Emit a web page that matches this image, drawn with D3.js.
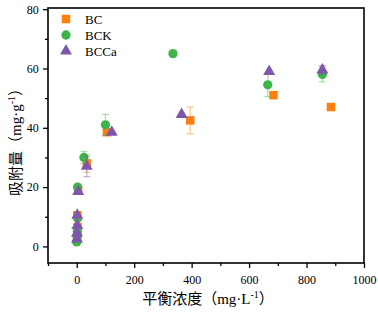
<!DOCTYPE html>
<html>
<head>
<meta charset="utf-8">
<script src="https://cdn.jsdelivr.net/npm/d3@7"></script>
<style>
  body { margin: 0; background: #fff; }
  svg { display: block; }
  .serif { font-family: "Liberation Serif", "Times New Roman", serif; }
</style>
</head>
<body>
<div id="chart"></div>
<script>
// Adsorption isotherm: uptake vs equilibrium concentration

const seriesNames = ["BC", "BCK", "BCCa"];

// [concentration, uptake, error]
const bcPoints = [
  [1, 2.5, 0], [2, 4, 0], [3, 6.5, 0], [2, 10.5, 0], [5, 19, 0],
  [35, 28, 3], [105, 38.5, 0.8], [395, 42.5, 4.5], [685, 51, 0.8], [885, 47, 0.8]
];
const bckPoints = [
  [0, 1.5, 0], [1, 3.5, 0], [2, 5, 0], [3, 9.5, 0], [3, 20, 0],
  [25, 30, 2], [100, 41, 3.5], [335, 65, 0], [665, 54.5, 4], [855, 58, 2.5]
];
const bccaPoints = [
  [1, 2.5, 0], [1, 4.5, 0], [2, 7, 0], [2, 10.5, 0], [5, 18.5, 0],
  [35, 27, 3.5], [122, 38.5, 0], [365, 44.5, 0], [670, 59, 0], [855, 59.5, 1.5]
];

const xTicks = [0, 200, 400, 600, 800, 1000];
const yTicks = [0, 20, 40, 60, 80];

const width = 378;
const height = 314;
const margin = { top: 8, right: 14, bottom: 51, left: 48 };

const colors = { BC: "#ff7f0e", BCK: "#3db54a", BCCa: "#7e57ad" };
const symbols = { BC: d3.symbolSquare, BCK: d3.symbolCircle, BCCa: d3.symbolTriangle };
const symbolSizes = { BC: 72, BCK: 68, BCCa: 62 };

const svg = d3.select("#chart")
  .append("svg")
  .attr("width", width)
  .attr("height", height);

const xScale = d3.scaleLinear()
  .domain([-100, 1000])
  .range([margin.left, width - margin.right]);

const yScale = d3.scaleLinear()
  .domain([-5.6, 80.4])
  .range([height - margin.bottom, margin.top]);

const serifFont = '"Liberation Serif", "Times New Roman", serif';

// Axes (outward ticks)
const xAxis = svg.append("g")
  .attr("transform", `translate(0,${height - margin.bottom})`)
  .call(d3.axisBottom(xScale).tickValues(xTicks).tickFormat(d3.format("d")).tickSize(5).tickSizeOuter(0));
svg.append("g")
  .attr("transform", `translate(0,${height - margin.bottom})`)
  .call(d3.axisBottom(xScale).tickValues([-100, 100, 300, 500, 700, 900]).tickSize(3).tickFormat("").tickSizeOuter(0))
  .select(".domain").remove();

const yAxis = svg.append("g")
  .attr("transform", `translate(${margin.left},0)`)
  .call(d3.axisLeft(yScale).tickValues(yTicks).tickSize(5).tickSizeOuter(0));
svg.append("g")
  .attr("transform", `translate(${margin.left},0)`)
  .call(d3.axisLeft(yScale).tickValues([10, 30, 50, 70]).tickSize(3).tickFormat("").tickSizeOuter(0))
  .select(".domain").remove();

[xAxis, yAxis].forEach(g => {
  g.attr("font-family", serifFont).attr("font-size", 12);
  g.select(".domain").remove();
  g.selectAll("text").attr("fill", "#000");
});
svg.selectAll(".tick line").attr("stroke", "#000").attr("stroke-width", 1.3);
xAxis.selectAll("text").attr("dy", "1.1em");
yAxis.selectAll("text").attr("dx", "-0.1em");

// Frame
svg.append("rect")
  .attr("x", margin.left)
  .attr("y", margin.top)
  .attr("width", width - margin.left - margin.right)
  .attr("height", height - margin.top - margin.bottom)
  .attr("fill", "none")
  .attr("stroke", "#000")
  .attr("stroke-width", 1.6);

// Axis titles
const cjkFont = '"Noto Sans CJK SC", sans-serif';
const xTitle = svg.append("text")
  .attr("x", (margin.left + width - margin.right) / 2 + 2)
  .attr("y", 304)
  .attr("text-anchor", "middle")
  .attr("font-size", 15)
  .attr("fill", "#000");
xTitle.append("tspan").attr("font-family", cjkFont).text("平衡浓度（");
xTitle.append("tspan").attr("font-family", serifFont).text("mg·L");
xTitle.append("tspan").attr("font-family", serifFont).attr("font-size", 10).attr("dy", -6).text("-1");
xTitle.append("tspan").attr("font-family", cjkFont).attr("dy", 6).text("）");

const yTitle = svg.append("text")
  .attr("transform", `translate(21,${(margin.top + height - margin.bottom) / 2 + 3}) rotate(-90)`)
  .attr("text-anchor", "middle")
  .attr("font-size", 15)
  .attr("fill", "#000");
yTitle.append("tspan").attr("font-family", cjkFont).text("吸附量（");
yTitle.append("tspan").attr("font-family", serifFont).text("mg·g");
yTitle.append("tspan").attr("font-family", serifFont).attr("font-size", 10).attr("dy", -6).text("-1");
yTitle.append("tspan").attr("font-family", cjkFont).attr("dy", 6).text("）");

// Series
const allSeries = [
  { name: "BC", points: bcPoints },
  { name: "BCK", points: bckPoints },
  { name: "BCCa", points: bccaPoints }
];

allSeries.forEach(s => {
  const col = colors[s.name];
  const g = svg.append("g");

  // Error bars
  const withErr = s.points.filter(p => p[2] > 0);
  g.selectAll("line.err")
    .data(withErr)
    .enter()
    .append("line")
    .attr("x1", d => xScale(d[0]))
    .attr("x2", d => xScale(d[0]))
    .attr("y1", d => yScale(d[1] - d[2]))
    .attr("y2", d => yScale(d[1] + d[2]))
    .attr("stroke", col)
    .attr("stroke-opacity", 0.45)
    .attr("stroke-width", 1.2);
  [-1, 1].forEach(sign => {
    g.selectAll(null)
      .data(withErr)
      .enter()
      .append("line")
      .attr("x1", d => xScale(d[0]) - 3.5)
      .attr("x2", d => xScale(d[0]) + 3.5)
      .attr("y1", d => yScale(d[1] + sign * d[2]))
      .attr("y2", d => yScale(d[1] + sign * d[2]))
      .attr("stroke", col)
      .attr("stroke-opacity", 0.45)
      .attr("stroke-width", 1.2);
  });

  // Markers
  g.selectAll("path.pt")
    .data(s.points)
    .enter()
    .append("path")
    .attr("class", "pt")
    .attr("d", d3.symbol().type(symbols[s.name]).size(symbolSizes[s.name]))
    .attr("transform", d => `translate(${xScale(d[0])},${yScale(d[1])})`)
    .attr("fill", col);
});

// Legend
seriesNames.forEach((name, i) => {
  const ly = 19 + i * 16;
  svg.append("path")
    .attr("d", d3.symbol().type(symbols[name]).size(symbolSizes[name])())
    .attr("transform", `translate(66,${ly})`)
    .attr("fill", colors[name]);
  svg.append("text")
    .attr("x", 85)
    .attr("y", ly + 4.5)
    .attr("font-family", serifFont)
    .attr("font-size", 13)
    .attr("fill", "#000")
    .text(name);
});
</script>
</body>
</html>
